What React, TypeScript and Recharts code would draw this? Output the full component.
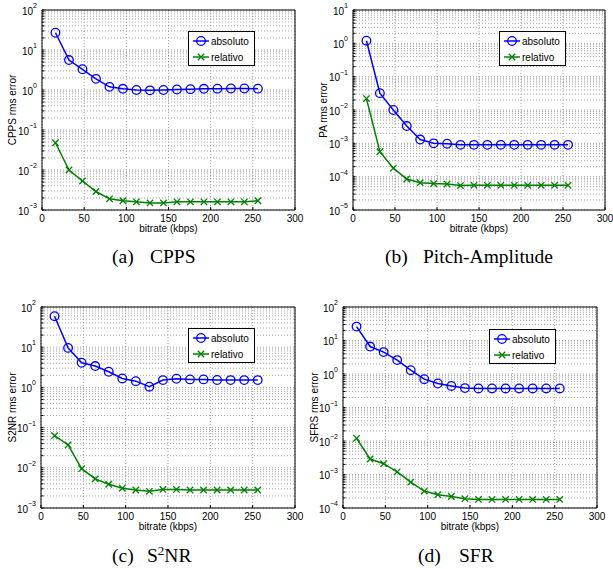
import React from 'react';
import { LineChart, Line, XAxis, YAxis, CartesianGrid, Legend } from 'recharts';

const bitrates = [16, 32, 48, 64, 80, 96, 112, 128, 144, 160, 176, 192, 208, 224, 240, 256];
const xTicks = [0, 50, 100, 150, 200, 250, 300];
const seriesNames = ['absoluto', 'relativo'];
const xLabel = 'bitrate (kbps)';

const cppsAbs = [27, 5.6, 3.3, 1.9, 1.2, 1.07, 1.0, 0.98, 1.0, 1.03, 1.05, 1.07, 1.08, 1.09, 1.09, 1.08];
const cppsRel = [0.048, 0.01, 0.0053, 0.0029, 0.0019, 0.0017, 0.0016, 0.0015, 0.0015, 0.0016, 0.0016, 0.0016, 0.0016, 0.0016, 0.0016, 0.0017];

const paAbs = [1.2, 0.032, 0.01, 0.0033, 0.0013, 0.001, 0.00097, 0.0009, 0.0009, 0.0009, 0.0009, 0.0009, 0.0009, 0.0009, 0.0009, 0.0009];
const paRel = [0.022, 0.00056, 0.00018, 0.000085, 0.000066, 0.000062, 0.00006, 0.000054, 0.000055, 0.000055, 0.000055, 0.000055, 0.000055, 0.000055, 0.000055, 0.000055];

const s2nrAbs = [59, 9.6, 4.1, 3.4, 2.45, 1.67, 1.43, 1.04, 1.52, 1.64, 1.58, 1.58, 1.53, 1.52, 1.52, 1.52];
const s2nrRel = [0.063, 0.037, 0.0095, 0.0053, 0.0039, 0.0031, 0.0028, 0.0026, 0.0029, 0.0029, 0.0028, 0.0028, 0.0028, 0.0028, 0.0028, 0.0028];

const sfrAbs = [26, 6.6, 4.5, 2.6, 1.3, 0.7, 0.52, 0.44, 0.38, 0.37, 0.37, 0.37, 0.37, 0.37, 0.37, 0.37];
const sfrRel = [0.012, 0.0029, 0.0021, 0.0012, 0.00059, 0.00032, 0.00025, 0.00022, 0.00019, 0.00018, 0.00018, 0.00018, 0.00018, 0.00018, 0.00018, 0.00018];

const cppsDecades = [1e-3, 1e-2, 1e-1, 1, 10, 100];
const paDecades = [1e-5, 1e-4, 1e-3, 1e-2, 1e-1, 1, 10];
const s2nrDecades = [1e-3, 1e-2, 1e-1, 1, 10, 100];
const sfrDecades = [1e-4, 1e-3, 1e-2, 1e-1, 1, 10, 100];

const yLabels = ['CPPS rms error', 'PA rms error', 'S2NR rms error', 'SFRS rms error'];
const captionTags = ['(a)', '(b)', '(c)', '(d)'];

const SANS = '"Liberation Sans", Arial, Helvetica, sans-serif';
const SERIF = '"Liberation Serif", "Times New Roman", serif';
const BLUE = '#0000ff';
const GREEN = '#008000';

// layout only (positions / sizes)
const layouts = [
  { left: 0, top: 0, width: 306, height: 240, yw: 42, mr: 11, ylab: 12, legL: 188, legT: 31 },
  { left: 306, top: 0, width: 307, height: 240, yw: 47, mr: 8, ylab: 17, legL: 193, legT: 31 },
  { left: 0, top: 297, width: 306, height: 241, yw: 41, mr: 11, ylab: 12, legL: 188, legT: 31 },
  { left: 306, top: 297, width: 307, height: 241, yw: 37, mr: 16, ylab: 8, legL: 183, legT: 32 },
];

const withMinor = (decades: number[]) =>
  decades.flatMap((d, i) =>
    i === decades.length - 1 ? [d] : [1, 2, 3, 4, 5, 6, 7, 8, 9].map((k) => d * k)
  );

const buildRows = (abs: number[], rel: number[]) =>
  bitrates.map((b, i) => ({ x: b, abs: abs[i], rel: rel[i] }));

const panels = [
  { rows: buildRows(cppsAbs, cppsRel), decades: cppsDecades },
  { rows: buildRows(paAbs, paRel), decades: paDecades },
  { rows: buildRows(s2nrAbs, s2nrRel), decades: s2nrDecades },
  { rows: buildRows(sfrAbs, sfrRel), decades: sfrDecades },
];

const LogTick = (props: any) => {
  const { x, y, payload } = props;
  const lv = Math.log10(payload.value);
  const e = Math.round(lv);
  if (Math.abs(lv - e) > 1e-6) return <g />;
  const exp = e < 0 ? '\u2212' + Math.abs(e) : String(e);
  return (
    <text x={x} y={y} textAnchor="end" fontSize={10} fontFamily={SANS} fill="#000">
      <tspan dy={4.5}>10</tspan>
      <tspan dy={-6.5} fontSize={7}>{exp}</tspan>
    </text>
  );
};

const circleDot = (p: any) => (
  <circle key={`c${p.index}`} cx={p.cx} cy={p.cy} r={4.3} fill="none" stroke={BLUE} strokeWidth={1.3} />
);

const crossDot = (p: any) => {
  const s = 3.2;
  return (
    <path
      key={`x${p.index}`}
      d={`M${p.cx - s},${p.cy - s}L${p.cx + s},${p.cy + s}M${p.cx - s},${p.cy + s}L${p.cx + s},${p.cy - s}`}
      stroke={GREEN}
      strokeWidth={1.3}
      fill="none"
    />
  );
};

const LegendBox = () => (
  <svg width={67} height={35} style={{ display: 'block' }}>
    <rect x={0.5} y={0.5} width={66} height={34} fill="#fff" stroke="#000" strokeWidth={1} />
    <line x1={5} y1={10} x2={21} y2={10} stroke={BLUE} strokeWidth={1.5} />
    <circle cx={13} cy={10} r={4.3} fill="none" stroke={BLUE} strokeWidth={1.3} />
    <text x={23} y={13.5} fontSize={10} fontFamily={SANS} fill="#000">{seriesNames[0]}</text>
    <line x1={5} y1={26} x2={21} y2={26} stroke={GREEN} strokeWidth={1.5} />
    <path d="M9.8,22.8L16.2,29.2M9.8,29.2L16.2,22.8" stroke={GREEN} strokeWidth={1.3} fill="none" />
    <text x={23} y={29.5} fontSize={10} fontFamily={SANS} fill="#000">{seriesNames[1]}</text>
  </svg>
);

const Panel = ({ idx }: { idx: number }) => {
  const L = layouts[idx];
  const P = panels[idx];
  const yTicks = withMinor(P.decades);
  const domain = [P.decades[0], P.decades[P.decades.length - 1]];
  return (
    <div style={{ position: 'absolute', left: L.left, top: L.top }}>
      <LineChart
        width={L.width}
        height={L.height}
        data={P.rows}
        margin={{ top: 10, right: L.mr, left: 0, bottom: 0 }}
      >
        <CartesianGrid
          xAxisId="b"
          yAxisId="l"
          stroke="#8c8c8c"
          strokeDasharray="1 2"
          strokeWidth={0.8}
        />
        <XAxis
          xAxisId="b"
          dataKey="x"
          type="number"
          domain={[0, 300]}
          ticks={xTicks}
          allowDataOverflow
          height={30}
          tickSize={-3}
          tickMargin={8}
          axisLine={{ stroke: '#000', strokeWidth: 1 }}
          tickLine={{ stroke: '#000' }}
          tick={{ fontSize: 10, fill: '#000', fontFamily: SANS }}
          label={{ value: xLabel, position: 'insideBottom', offset: 8, fontSize: 10, fill: '#000', fontFamily: SANS }}
        />
        <XAxis
          xAxisId="t"
          orientation="top"
          mirror
          type="number"
          domain={[0, 300]}
          ticks={xTicks}
          allowDataOverflow
          tick={false}
          tickSize={3}
          axisLine={{ stroke: '#000', strokeWidth: 1 }}
          tickLine={{ stroke: '#000' }}
        />
        <YAxis
          yAxisId="l"
          type="number"
          scale="log"
          domain={domain}
          ticks={yTicks}
          allowDataOverflow
          width={L.yw}
          tickSize={-2.5}
          tickMargin={7.5}
          axisLine={{ stroke: '#000', strokeWidth: 1 }}
          tickLine={{ stroke: '#000' }}
          tick={<LogTick />}
          interval={0}
          label={{
            value: yLabels[idx],
            angle: -90,
            position: 'insideLeft',
            offset: L.ylab,
            fontSize: 10,
            fill: '#000',
            fontFamily: SANS,
            style: { textAnchor: 'middle' },
          }}
        />
        <YAxis
          yAxisId="r"
          orientation="right"
          mirror
          type="number"
          scale="log"
          domain={domain}
          ticks={yTicks}
          allowDataOverflow
          interval={0}
          tick={false}
          tickSize={2.5}
          axisLine={{ stroke: '#000', strokeWidth: 1 }}
          tickLine={{ stroke: '#000' }}
        />
        <Line
          xAxisId="b"
          yAxisId="l"
          dataKey="abs"
          name={seriesNames[0]}
          stroke={BLUE}
          strokeWidth={1.5}
          dot={circleDot}
          activeDot={false}
          isAnimationActive={false}
        />
        <Line
          xAxisId="b"
          yAxisId="l"
          dataKey="rel"
          name={seriesNames[1]}
          stroke={GREEN}
          strokeWidth={1.5}
          dot={crossDot}
          activeDot={false}
          isAnimationActive={false}
        />
        <Legend
          layout="horizontal"
          verticalAlign="middle"
          align="center"
          content={() => <LegendBox />}
          wrapperStyle={{ left: L.legL, top: L.legT, width: 67, height: 35 }}
        />
      </LineChart>
    </div>
  );
};

const captionStyle: React.CSSProperties = {
  position: 'absolute',
  fontFamily: SERIF,
  fontSize: 19.5,
  lineHeight: '19.5px',
  color: '#000',
  whiteSpace: 'nowrap',
};

const Caption = ({ tag, x, labelX, baseline, children }: any) => (
  <>
    <div style={{ ...captionStyle, left: x, top: baseline - 15 }}>{tag}</div>
    <div style={{ ...captionStyle, left: labelX, top: baseline - 15 }}>{children}</div>
  </>
);

export default function App() {
  return (
    <div
      style={{
        position: 'absolute',
        left: 0,
        top: 0,
        width: 613,
        height: 569,
        background: '#fff',
        overflow: 'hidden',
      }}
    >
      <Panel idx={0} />
      <Panel idx={1} />
      <Panel idx={2} />
      <Panel idx={3} />
      <Caption tag={captionTags[0]} x={112} labelX={150} baseline={262}>CPPS</Caption>
      <Caption tag={captionTags[1]} x={385} labelX={423} baseline={262}>Pitch-Amplitude</Caption>
      <Caption tag={captionTags[2]} x={112} labelX={147} baseline={561}>
        S<sup style={{ fontSize: 13, verticalAlign: 'baseline', position: 'relative', top: -7 }}>2</sup>NR
      </Caption>
      <Caption tag={captionTags[3]} x={418} labelX={459} baseline={561}>SFR</Caption>
    </div>
  );
}
